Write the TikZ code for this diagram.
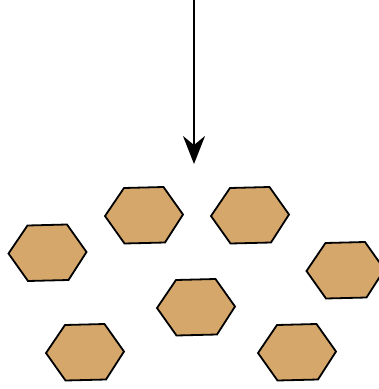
\documentclass[tikz,border=0pt]{standalone}
\usetikzlibrary{arrows.meta}
\definecolor{hexfill}{HTML}{D5A76B}
\tikzset{
  hexstyle/.style={draw=black, fill=hexfill, line width=1.8pt, line join=miter},
  hexa/.pic={\path[hexstyle] (-20,-27.5) -- (19.5,-28.5) -- (39,-1) -- (21,27) -- (-19.5,28) -- (-39,0.5) -- cycle;},
  flow/.style={draw=black, line width=2pt, -{Stealth[length=28pt,width=22pt,inset=9pt]}}
}
\begin{document}
\begin{tikzpicture}[x=1pt,y=-1pt]
\useasboundingbox (0,0) rectangle (379,389);
\coordinate (src) at (194,0);
\coordinate (dst) at (194,164);
\draw[flow] (src) -- (dst);
\coordinate (h1) at (144,215.5);
\coordinate (h2) at (250,215.5);
\coordinate (h3) at (47.5,253);
\coordinate (h4) at (345.5,270.5);
\coordinate (h5) at (196,307.5);
\coordinate (h6) at (85,352.5);
\coordinate (h7) at (297,352.5);
\foreach \h in {h1,h2,h3,h4,h5,h6,h7} {\pic at (\h) {hexa};}
\end{tikzpicture}
\end{document}
